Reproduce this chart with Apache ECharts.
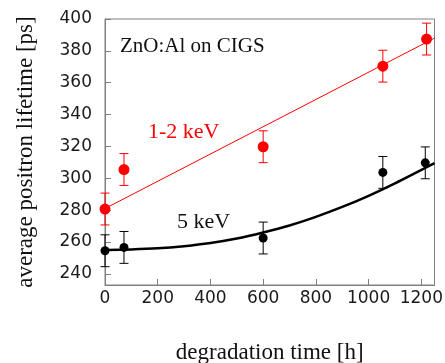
<!DOCTYPE html>
<html>
<head>
<meta charset="utf-8">
<script src="https://cdn.jsdelivr.net/npm/echarts@6/dist/echarts.min.js"></script>
<style>
  html, body { margin: 0; padding: 0; background: #fff; }
  #chart { width: 445px; height: 363px; }
</style>
</head>
<body>
<div id="chart"></div>
<script>
// measured points (degradation time [h], lifetime [ps], error [ps])
const timeRed = [0, 72, 600, 1054, 1220];
const lifeRed = [280.7, 305.5, 319.8, 370.4, 387.4];
const errRed = [10, 10, 10, 10, 10];

const timeBlack = [0, 72, 600, 1054, 1215];
const lifeBlack = [254.5, 256.6, 262.5, 303.7, 309.7];
const errBlack = [10, 10, 10, 10, 10];

// fit curves
const fitRedTime = [0, 1250];
const fitRedLife = [281, 388];
const fitBlackTime = [0, 100, 200, 300, 400, 500, 600, 700, 800, 900, 1000, 1100, 1250];
const fitBlackLife = [255, 255.3, 256, 257.4, 259.4, 262.2, 266, 270.4, 275.8, 282, 289, 296.8, 309.5];

// axis ticks
const xTicks = [0, 200, 400, 600, 800, 1000, 1200];
const yTicks = [240, 260, 280, 300, 320, 340, 360, 380, 400];

const chart = echarts.init(document.getElementById('chart'));

const zip = (a, b, c) => a.map((v, i) => c ? [v, b[i], c[i]] : [v, b[i]]);

function errorBars(color) {
  return function (params, api) {
    const x = api.value(0), y = api.value(1), e = api.value(2);
    const top = api.coord([x, y + e]);
    const bot = api.coord([x, y - e]);
    const half = 4.5;
    const style = { stroke: color, lineWidth: 1 };
    return {
      type: 'group',
      children: [
        { type: 'line', shape: { x1: top[0], y1: top[1], x2: bot[0], y2: bot[1] }, style },
        { type: 'line', shape: { x1: top[0] - half, y1: top[1], x2: top[0] + half, y2: top[1] }, style },
        { type: 'line', shape: { x1: bot[0] - half, y1: bot[1], x2: bot[0] + half, y2: bot[1] }, style }
      ]
    };
  };
}

const tickFont = { fontFamily: 'DejaVu Sans', fontSize: 17, color: '#1a1a1a' };
const serif = 'Liberation Serif';

chart.setOption({
  animation: false,
  grid: {
    left: 105, right: 10.5, top: 19, bottom: 78,
    containLabel: false, outerBoundsMode: 'none',
    show: true, borderColor: '#808080', borderWidth: 1
  },
  xAxis: {
    type: 'value',
    min: 0, max: 1250,
    name: 'degradation time [h]',
    nameLocation: 'middle',
    nameGap: 56,
    nameTextStyle: { fontFamily: serif, fontSize: 23, color: '#111' },
    axisLine: { show: true, lineStyle: { color: '#808080', width: 1 } },
    axisTick: { show: true, inside: true, length: 6, customValues: xTicks, lineStyle: { color: '#808080' } },
    axisLabel: { ...tickFont, margin: 5, customValues: xTicks, formatter: v => String(v) },
    splitLine: { show: false }
  },
  yAxis: {
    type: 'value',
    min: 233, max: 400,
    name: 'average positron lifetime [ps]',
    nameLocation: 'middle',
    nameGap: 68,
    nameRotate: 90,
    nameTextStyle: { fontFamily: serif, fontSize: 23, color: '#111' },
    axisLine: { show: true, lineStyle: { color: '#808080', width: 1 } },
    axisTick: { show: true, inside: true, length: 6, customValues: yTicks, lineStyle: { color: '#808080' } },
    axisLabel: { ...tickFont, margin: 13, customValues: yTicks, formatter: v => String(v) },
    splitLine: { show: false }
  },
  series: [
    {
      type: 'line', data: zip(fitRedTime, fitRedLife),
      showSymbol: false, lineStyle: { color: '#ff0000', width: 1 }, z: 1
    },
    {
      type: 'line', data: zip(fitBlackTime, fitBlackLife), smooth: 0.3,
      showSymbol: false, lineStyle: { color: '#000', width: 2.5 }, z: 1
    },
    {
      type: 'custom', data: zip(timeRed, lifeRed, errRed),
      renderItem: errorBars('#ff0000'), encode: { x: 0, y: 1 }, clip: false, z: 2
    },
    {
      type: 'custom', data: zip(timeBlack, lifeBlack, errBlack),
      renderItem: errorBars('#000'), encode: { x: 0, y: 1 }, clip: false, z: 2
    },
    {
      type: 'scatter', data: zip(timeRed, lifeRed), symbolSize: 11,
      itemStyle: { color: '#ff0000', opacity: 1 }, z: 3
    },
    {
      type: 'scatter', data: zip(timeBlack, lifeBlack), symbolSize: 9,
      itemStyle: { color: '#000', opacity: 1 }, z: 3
    }
  ],
  graphic: [
    { type: 'text', left: 120, top: 36, style: { text: 'ZnO:Al on CIGS', font: '21px "Liberation Serif"', fill: '#111' } },
    { type: 'text', left: 148, top: 121, style: { text: '1-2 keV', font: '22px "Liberation Serif"', fill: '#ff0000' } },
    { type: 'text', left: 177, top: 211, style: { text: '5 keV', font: '22px "Liberation Serif"', fill: '#111' } }
  ]
});
</script>
</body>
</html>
